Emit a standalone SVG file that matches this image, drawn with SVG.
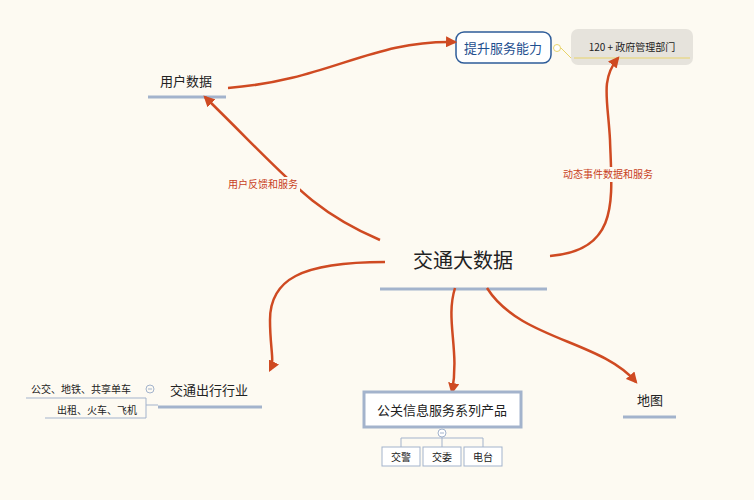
<svg xmlns="http://www.w3.org/2000/svg" width="754" height="500" viewBox="0 0 754 500">
<defs>
<marker id="ah" viewBox="0 0 10 10" refX="8" refY="5" markerWidth="4.5" markerHeight="4.5" orient="auto"><path d="M0,0L10,5L0,10z" fill="#cf4a22"/></marker>
<style>
text{font-family:"Noto Sans CJK SC","Liberation Sans",sans-serif;fill:#222}
.c{fill:none;stroke:#cf4a22;stroke-width:2.5;marker-end:url(#ah)}
.ul{stroke:#a3b3cc;stroke-width:3}
.lbl{font-size:10px;fill:#c8401c}
.sm{font-size:10px}
.bx{fill:#fff;stroke:#a3b3cc;stroke-width:1}
.thin{fill:none;stroke:#a3b3cc;stroke-width:1}
.bg{fill:#fdfaf2}
</style>
</defs>
<rect width="754" height="500" fill="#fdfaf2"/>
<g id="center"><text x="463" y="268" font-size="20" text-anchor="middle">交通大数据</text><line class="ul" x1="380" y1="289" x2="547" y2="289"/></g>
<g id="user"><text x="186" y="86" font-size="13" text-anchor="middle">用户数据</text><line class="ul" x1="148" y1="97" x2="226" y2="97"/></g>
<g id="improve"><rect x="456" y="32" width="95" height="31" rx="8" fill="#fff" stroke="#2e5c99" stroke-width="1.5"/><text x="503" y="53" font-size="13" text-anchor="middle" style="fill:#1f4f8f">提升服务能力</text>
<circle cx="557" cy="48" r="3.5" fill="#fff" stroke="#e8d36a"/><path d="M561,48 L571,58 L690,58" fill="none" stroke="#e8d36a"/></g>
<g id="gov"><rect x="571" y="29" width="122" height="36" rx="7" fill="#e6e3dc"/><text x="632" y="51" class="sm" text-anchor="middle">120 + 政府管理部门</text><line x1="574" y1="58" x2="690" y2="58" stroke="#e8d36a"/></g>
<g id="connectors">
<path class="c" d="M380,240 C310,210 290,180 205,97"/>
<path class="c" d="M228,88 C330,80 370,40 455,42"/>
<path class="c" d="M550,256 C620,250 612,200 610,140 C608,100 600,80 618,58"/>
<path class="c" d="M385,262 C300,262 270,280 270,320 C270,350 275,360 270,370"/>
<path class="c" d="M455,288 C445,320 460,350 452,392"/>
<path class="c" d="M487,288 C520,340 600,340 636,382"/>
<rect class="bg" x="226" y="177" width="74" height="15"/>
<text class="lbl" x="263" y="188" text-anchor="middle">用户反馈和服务</text>
<rect class="bg" x="561" y="167" width="94" height="15"/>
<text class="lbl" x="608" y="178" text-anchor="middle">动态事件数据和服务</text>
</g>
<g id="traffic"><text x="209" y="395" font-size="13" text-anchor="middle">交通出行行业</text><line class="ul" x1="158" y1="407" x2="262" y2="407"/>
<circle cx="150" cy="389" r="4" fill="none" stroke="#a3b3cc"/><line x1="148" y1="389" x2="152" y2="389" stroke="#a3b3cc"/>
<text class="sm" x="81" y="393" text-anchor="middle">公交、地铁、共享单车</text><line class="thin" x1="26" y1="398" x2="146" y2="398"/>
<path class="thin" d="M146,398 L146,418 L45,418"/><text class="sm" x="97" y="414" text-anchor="middle">出租、火车、飞机</text><line class="thin" x1="146" y1="405" x2="158" y2="405"/></g>
<g id="pr"><rect x="364" y="392" width="157" height="35" fill="#fff" stroke="#a3b3cc" stroke-width="3"/><text x="442" y="415" font-size="13" text-anchor="middle">公关信息服务系列产品</text>
<circle cx="442" cy="433" r="4" fill="#fff" stroke="#a3b3cc"/><line x1="440" y1="433" x2="444" y2="433" stroke="#a3b3cc"/>
<path class="thin" d="M442,437 V447 M401,447 V438 H483 V447"/>
<rect class="bx" x="382" y="447" width="38" height="19"/><text class="sm" x="401" y="461" text-anchor="middle">交警</text>
<rect class="bx" x="423" y="447" width="38" height="19"/><text class="sm" x="442" y="461" text-anchor="middle">交委</text>
<rect class="bx" x="464" y="447" width="38" height="19"/><text class="sm" x="483" y="461" text-anchor="middle">电台</text></g>
<g id="map"><text x="650" y="405" font-size="13" text-anchor="middle">地图</text><line class="ul" x1="623" y1="417" x2="676" y2="417"/></g>
</svg>
